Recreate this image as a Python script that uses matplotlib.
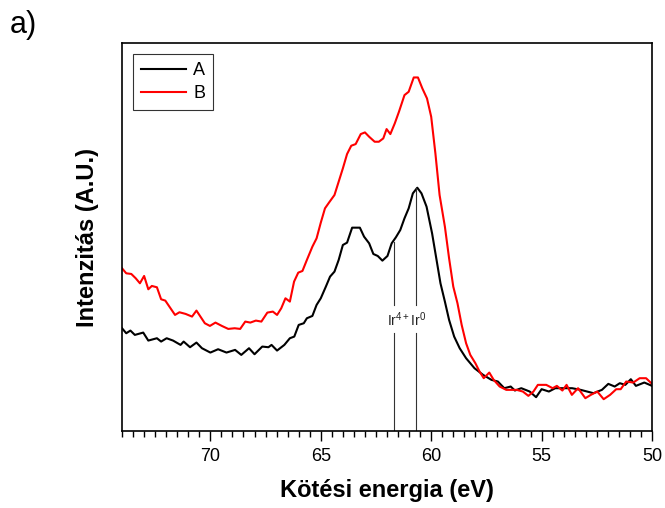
import matplotlib
matplotlib.use("Agg")
import matplotlib.pyplot as plt
from matplotlib.ticker import MultipleLocator

plt.rcParams['font.family'] = ['Liberation Sans', 'DejaVu Sans']

# Binding energy (eV) and intensity (arbitrary units)
energy_a = [74.0, 73.81, 73.62, 73.42, 73.04, 72.81, 72.42, 72.23, 71.98, 71.69,
            71.35, 71.21, 70.92, 70.63, 70.38, 70.0, 69.65, 69.27, 68.88, 68.6,
            68.25, 68.0, 67.65, 67.37, 67.23, 66.98, 66.65, 66.4, 66.2, 66.0,
            65.77, 65.63, 65.38, 65.19, 65.0, 64.77, 64.58, 64.38, 64.19, 64.0,
            63.81, 63.58, 63.23, 63.04, 62.81, 62.62, 62.42, 62.21, 61.98, 61.79,
            61.6, 61.4, 61.21, 61.02, 60.83, 60.63, 60.44, 60.21, 59.96, 59.77,
            59.58, 59.38, 59.19, 58.96, 58.71, 58.42, 58.04, 57.65, 57.27, 56.98,
            56.69, 56.4, 56.21, 55.92, 55.54, 55.25, 55.0, 54.67, 54.38, 54.0,
            53.62, 53.23, 52.94, 52.65, 52.27, 51.98, 51.69, 51.46, 51.21, 50.96,
            50.73, 50.35, 50.0]
intensity_a = [310, 295, 303, 290, 297, 273, 280, 270, 280, 273,
               260, 270, 253, 267, 250, 237, 247, 237, 245, 230,
               250, 232, 255, 253, 260, 243, 260, 280, 285, 320,
               325, 340, 347, 380, 400, 435, 465, 480, 515, 560,
               567, 612, 612, 585, 565, 533, 527, 513, 527, 565,
               583, 605, 640, 670, 715, 732, 715, 675, 595, 520,
               445, 390, 335, 285, 250, 220, 190, 170, 155, 150,
               130, 135, 123, 130, 120, 103, 127, 120, 130, 130,
               130, 125, 120, 115, 125, 143, 135, 145, 140, 157,
               137, 147, 137]

energy_b = [74.0, 73.81, 73.58, 73.38, 73.19, 73.0, 72.81, 72.65, 72.42, 72.23,
            72.04, 71.6, 71.4, 71.12, 70.83, 70.63, 70.25, 70.02, 69.77, 69.48,
            69.19, 68.9, 68.65, 68.42, 68.19, 67.94, 67.69, 67.42, 67.17, 66.98,
            66.79, 66.6, 66.4, 66.21, 66.02, 65.83, 65.63, 65.38, 65.19, 65.0,
            64.81, 64.62, 64.38, 64.19, 64.0, 63.81, 63.62, 63.42, 63.19, 63.0,
            62.81, 62.56, 62.37, 62.17, 62.02, 61.85, 61.65, 61.46, 61.21, 61.02,
            60.79, 60.6, 60.4, 60.19, 60.0, 59.81, 59.62, 59.38, 59.19, 59.0,
            58.81, 58.62, 58.42, 58.23, 58.0, 57.81, 57.62, 57.37, 57.17, 56.9,
            56.6, 56.13, 55.85, 55.6, 55.37, 55.17, 54.79, 54.5, 54.31, 54.06,
            53.87, 53.63, 53.35, 53.02, 52.77, 52.48, 52.19, 51.9, 51.62, 51.42,
            51.17, 50.85, 50.56, 50.27, 50.0]
intensity_b = [490, 475, 473, 460, 445, 467, 427, 437, 433, 397,
               393, 350, 358, 353, 345, 363, 325, 317, 327, 317,
               308, 310, 308, 330, 327, 333, 330, 357, 360, 350,
               370, 400, 390, 450, 477, 482, 515, 555, 580, 627,
               670, 688, 710, 750, 790, 833, 858, 863, 893, 898,
               885, 870, 870, 880, 908, 893, 925, 960, 1010, 1020,
               1063, 1063, 1030, 1000, 945, 835, 710, 615, 520, 435,
               385, 320, 265, 230, 205, 180, 160, 177, 155, 135,
               125, 125, 120, 107, 120, 140, 140, 130, 137, 123,
               140, 110, 130, 100, 110, 120, 97, 110, 127, 127,
               150, 147, 160, 160, 143]

series_labels = ['A', 'B']
series_colors = ['black', 'red']

# Peak markers
peak_energies = [61.7, 60.7]
peak_tops = [570, 730]
peak_text = r'Ir$^{\mathregular{4+}}$Ir$^{\mathregular{0}}$'

fig = plt.figure(figsize=(6.65, 5.08), dpi=100)
ax = fig.add_axes([0.1835, 0.1506, 0.797, 0.7638])

ax.plot(energy_a, intensity_a, color=series_colors[0], lw=1.5, label=series_labels[0])
ax.plot(energy_b, intensity_b, color=series_colors[1], lw=1.5, label=series_labels[1])

gap_lo, gap_hi = 296, 380
for e, top in zip(peak_energies, peak_tops):
    ax.plot([e, e], [0, gap_lo], color='#333333', lw=0.8)
    ax.plot([e, e], [gap_hi, top], color='#333333', lw=0.8)
ax.text(61.12, 336, peak_text, ha='center', va='center', fontsize=10, color='#222222')

ax.set_xlim(74, 50)
ax.set_ylim(0, 1165)
ax.xaxis.set_major_locator(MultipleLocator(5))
ax.xaxis.set_minor_locator(MultipleLocator(0.5))
ax.tick_params(axis='x', which='major', direction='out', length=7, width=1, labelsize=13, pad=5)
ax.tick_params(axis='x', which='minor', direction='out', length=4, width=1)
ax.tick_params(axis='y', left=False, labelleft=False)
for s in ax.spines.values():
    s.set_linewidth(1.2)

ax.set_xlabel('Kötési energia (eV)', fontsize=17, fontweight='bold', va='center')
ax.xaxis.set_label_coords(0.5, -0.151)
ax.set_ylabel('Intenzitás (A.U.)', fontsize=17, fontweight='bold', va='center')
ax.yaxis.set_label_coords(-0.066, 0.5)

leg = ax.legend(loc='upper left', fontsize=13, frameon=True, fancybox=False,
                edgecolor='black', handlelength=2.5, borderpad=0.45,
                labelspacing=0.3, handletextpad=0.4, borderaxespad=0.6)
leg.get_frame().set_linewidth(0.8)

fig.text(0.015, 0.98, 'a)', fontsize=22, ha='left', va='top')

fig.savefig('out.png', dpi=100)
